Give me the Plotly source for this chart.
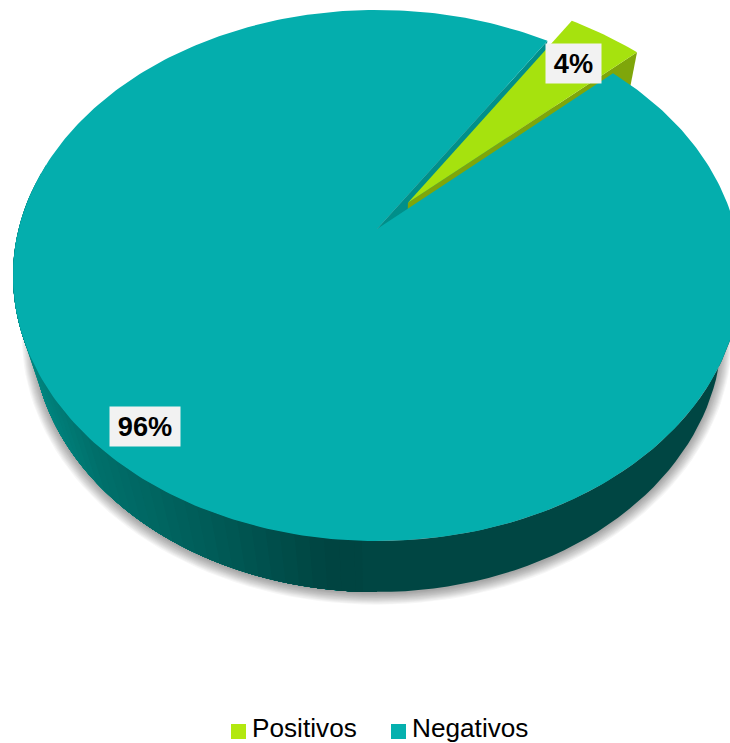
import numpy as np
import plotly.graph_objects as go

# Survey result shares
categories = ["Positivos", "Negativos"]
shares = [4, 96]
labels = ["4%", "96%"]

# Slice colours
top_colors = ["#A6E20E", "#04AEAD"]
legend_colors = ["#B2E80F", "#05B0AE"]
wedge_wall_color = "#7FA60A"
inner_wall_color = "#008F8A"
label_bg = "#F2F2F2"

# Side-wall shading of the large slice, by horizontal position
wall_stop_x = [25, 100, 200, 330, 377]
wall_stop_g = [138, 112, 94, 68, 68]
wall_stop_b = [132, 107, 90, 65, 65]

# Perspective camera for the disc
CX, CY = 377.0, 229.0
R, A, PERSP = 358.4, 257.4, 0.1751
DEPTH_Y, DEPTH_W = 61.5, 0.0535
START_DEG = 33.05
EXPLODE = 0.136


def project(u, v, t=0.0):
    w = 1 + PERSP * v + DEPTH_W * t
    return CX + R * u / w, CY - (A * v - DEPTH_Y * t) / w


def rim(deg, scale=1.0):
    rad = np.radians(deg)
    return scale * np.sin(rad), scale * np.cos(rad)


def poly(fig, xs, ys, color, opacity=1.0, line=0.0):
    fig.add_trace(go.Scatter(
        x=np.append(xs, xs[0]), y=np.append(ys, ys[0]), mode="lines", fill="toself",
        fillcolor=color, opacity=opacity, line=dict(color=color, width=line),
        hoverinfo="skip", showlegend=False,
    ))


fig = go.Figure()

total = sum(shares)
sweep_pos = 360.0 * shares[0] / total
end_pos = START_DEG + sweep_pos
end_neg = START_DEG + 360.0

# Soft shadow under the disc
for s in np.linspace(0.029, 0.0, 11):
    u, v = rim(np.arange(0, 361, 2.0), 1 + s)
    x, y = project(u, v, 1.0)
    poly(fig, x, y + 2, "#000000", opacity=0.036)

# Outer wall of the large slice: each band is painted over the previous one,
# from the lit left side towards the dark front, so no seams show
for a1 in np.arange(285.0, 180.0, -2.0):
    steps = np.linspace(a1, 180.0, 40)
    u, v = rim(steps)
    xt, yt = project(u, v, 0.0)
    xb, yb = project(u, v, 1.0)
    mid = float(np.mean(project(*rim(a1 - 1.0), 0.5)[0]))
    g = int(np.interp(mid, wall_stop_x, wall_stop_g))
    b = int(np.interp(mid, wall_stop_x, wall_stop_b))
    poly(fig, np.r_[xt, xb[::-1]], np.r_[yt, yb[::-1]], f"rgb(0,{g},{b})")

# Dark right-hand part of the wall
steps = np.arange(90.0, 182.01, 2.0)
u, v = rim(steps)
xt, yt = project(u, v, 0.0)
xb, yb = project(u, v, 1.0)
poly(fig, np.r_[xt, xb[::-1]], np.r_[yt, yb[::-1]], "#004643")

# Cut face of the large slice seen through the gap
u, v = rim(START_DEG)
x0, y0 = project(0.0, 0.0, 0.0)
x1, y1 = project(u, v, 0.0)
x2, y2 = project(u, v, 1.0)
x3, y3 = project(0.0, 0.0, 1.0)
poly(fig, np.array([x0, x1, x2, x3]), np.array([y0, y1, y2, y3]), inner_wall_color)

# Pulled-out small slice
off_u, off_v = rim(START_DEG + sweep_pos / 2, EXPLODE)
u, v = rim(end_pos)
x0, y0 = project(off_u, off_v, 0.0)
x1, y1 = project(off_u + u, off_v + v, 0.0)
x2, y2 = project(off_u + u, off_v + v, 1.0)
x3, y3 = project(off_u, off_v, 1.0)
poly(fig, np.array([x0, x1, x2, x3]), np.array([y0, y1, y2, y3]), wedge_wall_color)

u, v = rim(np.linspace(START_DEG, end_pos, 16))
x, y = project(np.r_[off_u, off_u + u], np.r_[off_v, off_v + v], 0.0)
poly(fig, x, y, top_colors[0])

# Top of the large slice
u, v = rim(np.linspace(end_pos, end_neg, 360))
x, y = project(np.r_[0.0, u], np.r_[0.0, v], 0.0)
poly(fig, x, y, top_colors[1])

# Value labels
annotations = []
for text, cx, cy, w, h in [(labels[0], 573.5, 63.5, 55, 39), (labels[1], 145, 426.5, 70, 39)]:
    annotations.append(dict(
        x=cx, y=cy, xref="x", yref="y", text=f"<b>{text}</b>", showarrow=False,
        width=w, height=h, bgcolor=label_bg, align="center", valign="middle", borderpad=0,
        font=dict(family="Liberation Sans", size=27.2, color="#000000"),
    ))

# Legend row along the bottom edge
for name, color, mx, tx in zip(categories, legend_colors, [238.5, 398.5], [252, 412]):
    fig.add_trace(go.Scatter(
        x=[mx], y=[731.5], mode="markers", hoverinfo="skip", showlegend=False,
        marker=dict(symbol="square", size=15, color=color, line=dict(width=0)),
    ))
    annotations.append(dict(
        x=tx, y=728.4, xref="x", yref="y", text=name, showarrow=False, xanchor="left",
        yanchor="middle", borderpad=0, borderwidth=0,
        font=dict(family="Liberation Sans", size=26.2, color="#000000"),
    ))

fig.update_layout(
    width=730, height=743, margin=dict(l=0, r=0, t=0, b=0),
    paper_bgcolor="#FFFFFF", plot_bgcolor="#FFFFFF", showlegend=False,
    xaxis=dict(range=[0, 730], visible=False, fixedrange=True),
    yaxis=dict(range=[743, 0], visible=False, fixedrange=True),
    annotations=annotations,
)

fig.write_html("out.html", config=dict(displayModeBar=False))
